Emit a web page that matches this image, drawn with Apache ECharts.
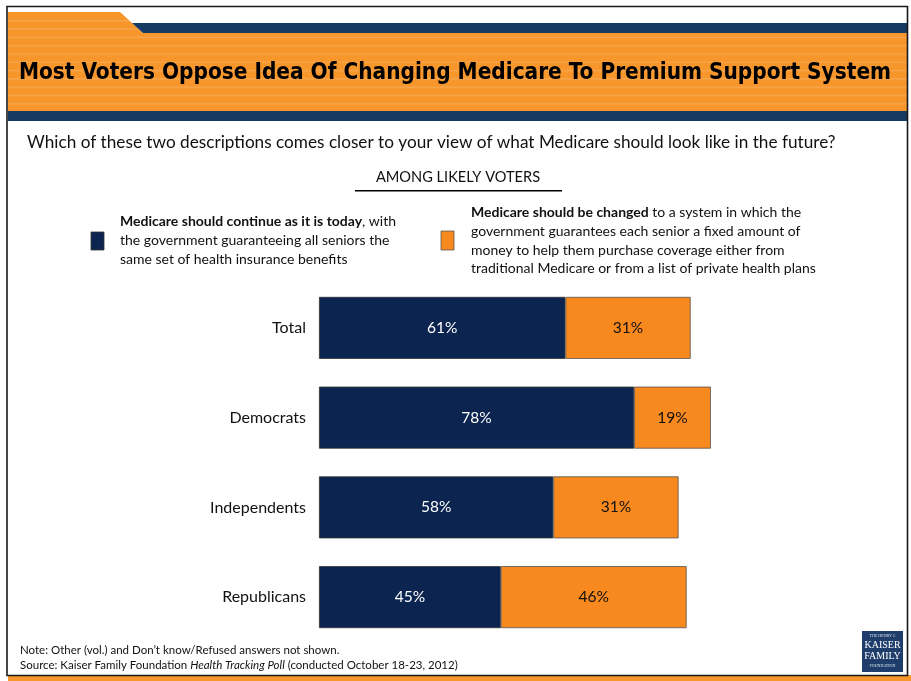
<!DOCTYPE html>
<html>
<head>
<meta charset="utf-8">
<script src="https://cdn.jsdelivr.net/npm/echarts@6/dist/echarts.min.js"></script>
<style>
  html, body { margin: 0; padding: 0; background: #ffffff; }
  #chart { width: 911px; height: 681px; }
</style>
</head>
<body>
<div id="chart"></div>
<script>
// Survey groups and shares (percent of likely voters)
const categories = ['Total', 'Democrats', 'Independents', 'Republicans'];
const continueToday = [61, 78, 58, 45];
const changeSystem = [31, 19, 31, 46];

const NAVY = '#0B2550';
const ORANGE = '#F7891F';
const BAND_ORANGE = '#F7962B';
const BAND_NAVY = '#173A63';
const FONT = 'Lato, "Open Sans", sans-serif';

// Header band: orange tab with a navy stripe, subtle light horizontal lines
const header = [];
header.push({
  type: 'polygon', silent: true,
  shape: { points: [[8, 12], [120, 12], [143, 33], [907, 33], [907, 111], [8, 111]] },
  style: { fill: BAND_ORANGE }
});
for (let y = 20; y < 111; y += 8.3) {
  let x2 = 907;
  if (y < 33) x2 = 120 + (y - 12) * (23 / 21);
  header.push({
    type: 'rect', silent: true,
    shape: { x: 8, y: y, width: x2 - 8, height: 1.6 },
    style: { fill: 'rgba(255,255,255,0.13)' }
  });
}
header.push({
  type: 'polygon', silent: true,
  shape: { points: [[132, 23], [907, 23], [907, 33], [143, 33]] },
  style: { fill: BAND_NAVY }
});
header.push({
  type: 'rect', silent: true,
  shape: { x: 8, y: 111, width: 899, height: 10 },
  style: { fill: BAND_NAVY }
});

const chart = echarts.init(document.getElementById('chart'), null, { renderer: 'canvas' });

chart.setOption({
  animation: false,
  backgroundColor: '#ffffff',
  grid: { left: 319, width: 404, top: 283, height: 359, containLabel: false },
  xAxis: {
    type: 'value', min: 0, max: 100,
    show: false
  },
  yAxis: {
    type: 'category', data: categories, inverse: true,
    axisLine: { show: false }, axisTick: { show: false },
    axisLabel: { color: '#111', fontSize: 16, fontFamily: FONT, margin: 13 }
  },
  series: [
    {
      name: 'Medicare should continue as it is today',
      type: 'bar', stack: 'all', barWidth: 62,
      data: continueToday,
      itemStyle: { color: NAVY, borderColor: '#333', borderWidth: 0.8 },
      label: {
        show: true, position: 'inside', formatter: '{c}%',
        color: '#ffffff', fontSize: 15.5, fontFamily: FONT
      }
    },
    {
      name: 'Medicare should be changed',
      type: 'bar', stack: 'all', barWidth: 62,
      data: changeSystem,
      itemStyle: { color: ORANGE, borderColor: '#555', borderWidth: 0.8 },
      label: {
        show: true, position: 'inside', formatter: '{c}%',
        color: '#111', fontSize: 15.5, fontFamily: FONT
      }
    }
  ],
  graphic: [
    // slide frame
    { type: 'rect', silent: true, z: 100,
      shape: { x: 7, y: 6.5, width: 900.5, height: 669 },
      style: { fill: null, stroke: '#1a1a1a', lineWidth: 1.6 } },
    // bottom orange strip
    { type: 'rect', silent: true,
      shape: { x: 8, y: 675, width: 903, height: 6 },
      style: { fill: BAND_ORANGE } },
    ...header,
    {
      type: 'text', silent: true, z: 10,
      x: 455, y: 73,
      style: {
        text: 'Most Voters Oppose Idea Of Changing Medicare To Premium Support System',
        font: 'bold 22.4px "DejaVu Sans Condensed", "Liberation Sans Narrow", sans-serif',
        fill: '#000', align: 'center', verticalAlign: 'middle'
      }
    },
    {
      type: 'text', silent: true,
      x: 27, y: 142,
      style: {
        text: 'Which of these two descriptions comes closer to your view of what Medicare should look like in the future?',
        font: '17.2px ' + FONT, fill: '#111', verticalAlign: 'middle'
      }
    },
    {
      type: 'text', silent: true,
      x: 458, y: 177,
      style: {
        text: 'AMONG LIKELY VOTERS', font: '14.6px ' + FONT, fill: '#111',
        align: 'center', verticalAlign: 'middle'
      }
    },
    { type: 'rect', silent: true,
      shape: { x: 355, y: 190, width: 207, height: 1.5 },
      style: { fill: '#000' } },
    // legend swatches
    { type: 'rect', silent: true,
      shape: { x: 91, y: 232, width: 13, height: 18 },
      style: { fill: NAVY, stroke: '#333', lineWidth: 0.8 } },
    { type: 'rect', silent: true,
      shape: { x: 441, y: 231, width: 13, height: 19 },
      style: { fill: ORANGE, stroke: '#555', lineWidth: 0.8 } },
    {
      type: 'text', silent: true,
      x: 120, y: 211.5,
      style: {
        text: '{b|Medicare should continue as it is today}, with\nthe government guaranteeing all seniors the\nsame set of health insurance benefits',
        font: '14px ' + FONT, fill: '#111', lineHeight: 19,
        rich: { b: { fontWeight: 'bold', fontSize: 14, fontFamily: FONT, fill: '#111' } }
      }
    },
    {
      type: 'text', silent: true,
      x: 471, y: 203.5,
      style: {
        text: '{b|Medicare should be changed} to a system in which the\ngovernment guarantees each senior a fixed amount of\nmoney to help them purchase coverage either from\ntraditional Medicare or from a list of private health plans',
        font: '14px ' + FONT, fill: '#111', lineHeight: 18.7,
        rich: { b: { fontWeight: 'bold', fontSize: 14, fontFamily: FONT, fill: '#111' } }
      }
    },
    // footnotes
    {
      type: 'text', silent: true,
      x: 20, y: 650,
      style: {
        text: 'Note: Other (vol.) and Don\u2019t know/Refused answers not shown.',
        font: '11.5px ' + FONT, fill: '#111', verticalAlign: 'middle'
      }
    },
    {
      type: 'text', silent: true,
      x: 20, y: 665,
      style: {
        text: 'Source: Kaiser Family Foundation {i|Health Tracking Poll} (conducted October 18-23, 2012)',
        font: '11.5px ' + FONT, fill: '#111', verticalAlign: 'middle',
        rich: { i: { fontStyle: 'italic', fontSize: 11.5, fontFamily: FONT, fill: '#111' } }
      }
    },
    // foundation logo
    { type: 'rect', silent: true,
      shape: { x: 862, y: 631, width: 41, height: 41 },
      style: { fill: '#1E3D6B' } },
    { type: 'text', silent: true, x: 882.5, y: 636,
      style: { text: 'THE HENRY J.', font: '4px "Liberation Serif", serif', fill: '#dfe6f0', align: 'center', verticalAlign: 'middle' } },
    { type: 'text', silent: true, x: 882.5, y: 645,
      style: { text: 'KAISER', font: '10px "Liberation Serif", serif', fill: '#ffffff', align: 'center', verticalAlign: 'middle' } },
    { type: 'text', silent: true, x: 882.5, y: 656,
      style: { text: 'FAMILY', font: '10px "Liberation Serif", serif', fill: '#ffffff', align: 'center', verticalAlign: 'middle' } },
    { type: 'text', silent: true, x: 882.5, y: 666,
      style: { text: 'FOUNDATION', font: '4px "Liberation Serif", serif', fill: '#dfe6f0', align: 'center', verticalAlign: 'middle' } }
  ]
});
</script>
</body>
</html>
